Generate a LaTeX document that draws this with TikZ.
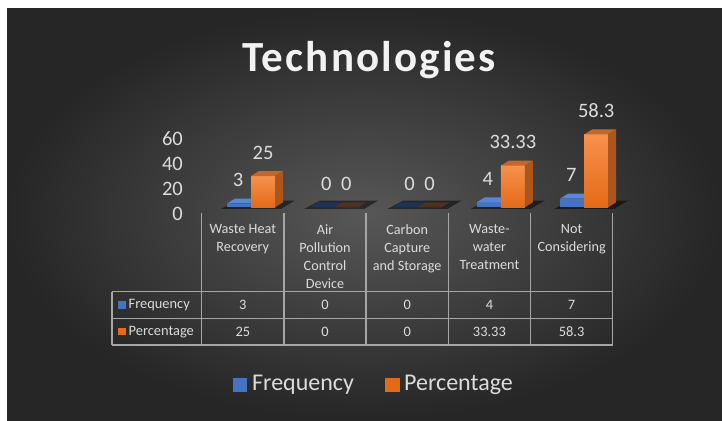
\documentclass[tikz,border=0pt]{standalone}
\usepackage{fontspec}
\setmainfont{Carlito}
\definecolor{bgin}{HTML}{575757}
\definecolor{bgout}{HTML}{262626}
\definecolor{txt}{HTML}{DCDCDC}
\definecolor{grid}{HTML}{A6A6A6}
\definecolor{bfront}{HTML}{4472C4}
\definecolor{btop}{HTML}{5B86D3}
\definecolor{ofrontA}{HTML}{F7914C}
\definecolor{ofrontB}{HTML}{E46A17}
\definecolor{otop}{HTML}{C2682F}
\definecolor{oside}{HTML}{A9571F}
\definecolor{bzero}{HTML}{1F3258}
\definecolor{ozero}{HTML}{4E3120}
\tikzset{
  lbl/.style={text=txt, inner sep=0pt, font=\fontsize{20.5}{22}\selectfont},
  cat/.style={text=txt, inner sep=0pt, align=center, anchor=north, font=\fontsize{14.2}{18}\selectfont},
  cell/.style={text=txt, inner sep=0pt, font=\fontsize{14.4}{16}\selectfont},
  gridline/.style={draw=grid, line width=1.4pt},
  leg/.style={text=txt, inner sep=0pt, anchor=west, font=\fontsize{24}{26}\selectfont},
}
\begin{document}
\begin{tikzpicture}[x=1pt,y=-1pt]
\useasboundingbox (0,0) rectangle (722,420);
\fill[white] (0,0) rectangle (722,420);
\shade[inner color=bgin, outer color=bgout] (7,9) rectangle (722,420);
% title
\node[text=white!95!black, inner sep=0pt, anchor=base, font=\fontsize{43}{46}\bfseries\addfontfeature{LetterSpace=5}] (title) at (369,71.5) {Technologies};
% axis labels
\foreach \v/\y in {60/138.3,40/163.5,20/188.7,0/214} {
  \node[lbl, anchor=east] (ax\v) at (183,\y) {\v};
}
% bars
\foreach \i/\fv/\pv in {0/3/25,1/0/0,2/0/0,3/4/33.33,4/7/58.3} {
  \pgfmathsetmacro\cx{251+83.3*\i}
  \pgfmathsetmacro\tf{207.3-1.25*\fv}
  \pgfmathsetmacro\tp{207.3-1.25*\pv}
  \fill[black, opacity=.5] (\cx-30,208.8) -- (\cx+30,208.8) -- (\cx+44,200.5) -- (\cx-14,200.5) -- cycle;
  \ifdim\fv pt>0pt
    \fill[bfront] (\cx-24,\tf) rectangle (\cx,207.3);
    \fill[btop] (\cx-24,\tf) -- (\cx,\tf) -- (\cx+8,\tf-5) -- (\cx-16,\tf-5) -- cycle;
    \node[lbl] (fl\i) at (\cx-13,\tf-23.5) {\fv};
  \else
    \fill[bzero] (\cx-24,207.3) -- (\cx,207.3) -- (\cx+8,202.3) -- (\cx-16,202.3) -- cycle;
    \node[lbl] (fl\i) at (\cx-8,\tf-23.5) {\fv};
  \fi
  \ifdim\pv pt>0pt
    \shade[top color=ofrontA, bottom color=ofrontB] (\cx,\tp) rectangle (\cx+24,207.3);
    \fill[otop] (\cx,\tp) -- (\cx+24,\tp) -- (\cx+32,\tp-5) -- (\cx+8,\tp-5) -- cycle;
    \fill[oside] (\cx+24,\tp) -- (\cx+32,\tp-5) -- (\cx+32,202.3) -- (\cx+24,207.3) -- cycle;
    \node[lbl] (pl\i) at (\cx+12,\tp-23.5) {\pv};
  \else
    \fill[ozero] (\cx,207.3) -- (\cx+24,207.3) -- (\cx+32,202.3) -- (\cx+8,202.3) -- cycle;
    \node[lbl] (pl\i) at (\cx+12,\tp-23.5) {\pv};
  \fi
}
% table grid
\foreach \j in {0,...,5} {
  \draw[gridline] (201.7+82.2*\j,212.7) -- (201.7+82.2*\j,345);
}
\draw[gridline] (112,291.7) -- (112,345);
\foreach \y in {291.7,318.3,345} {
  \draw[gridline] (112,\y) -- (612.7,\y);
}
% category labels
\foreach \j/\t in {0/{Waste Heat\\Recovery},1/{Air\\Pollution\\Control\\Device},2/{Carbon\\Capture\\and Storage},3/{Waste-\\water\\Treatment},4/{Not\\Considering}} {
  \node[cat] (c\j) at (242.8+82.2*\j,224.5) {\t};
}
% row headers
\fill[bfront] (118,300.9) rectangle (126,308.5);
\node[cell, anchor=west] (rf) at (128.5,305) {Frequency};
\fill[ofrontB] (118,327.5) rectangle (126,335.1);
\node[cell, anchor=west] (rp) at (128.5,331.7) {Percentage};
% row values
\foreach \j/\a/\b in {0/3/25,1/0/0,2/0/0,3/4/33.33,4/7/58.3} {
  \node[cell] (vf\j) at (242.8+82.2*\j,305) {\a};
  \node[cell] (vp\j) at (242.8+82.2*\j,331.7) {\b};
}
% legend
\fill[bfront] (233.3,378.3) rectangle (247.3,391.7);
\node[leg] (lf) at (252,385) {Frequency};
\fill[ofrontB] (385,378.3) rectangle (399.5,391.7);
\node[leg] (lp) at (404,385) {Percentage};
\end{tikzpicture}
\end{document}
